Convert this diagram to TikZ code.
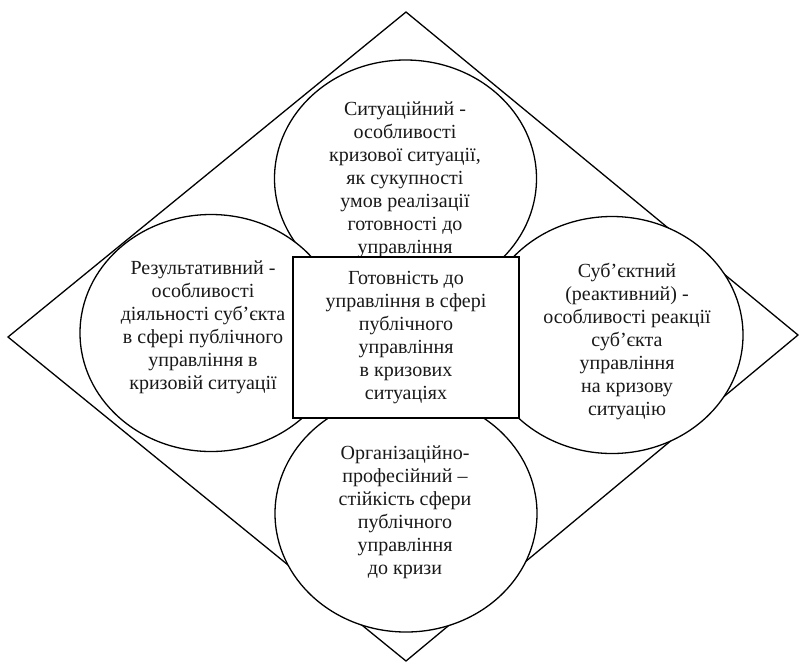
\documentclass[tikz,border=0pt]{standalone}
\usepackage{fontspec}
\setmainfont{Liberation Serif}
\usetikzlibrary{shapes.geometric}
\begin{document}
\begin{tikzpicture}[x=1pt,y=-1pt, line width=1.3pt,
  lbl/.style={align=center, font=\fontsize{20}{23}\selectfont, inner sep=0pt, text=black!90},
  oval/.style={draw, fill=white, ellipse, minimum width=262pt, minimum height=237pt, inner sep=0pt, outer sep=0pt},
  core/.style={draw, fill=white, rectangle, minimum width=226pt, minimum height=161pt, inner sep=0pt, outer sep=0pt, align=center, font=\fontsize{20}{23}\selectfont, text=black!90}]
\useasboundingbox (0,0) rectangle (799,662);
\coordinate (T) at (406,12);
\coordinate (R) at (798,335);
\coordinate (B) at (406,661);
\coordinate (L) at (8,337);
\draw (T) -- (R) -- (B) -- (L) -- cycle;
\node[oval] (top) at (405.5,178.5) {};
\node[oval] (left) at (211,333) {};
\node[oval] (right) at (612,335) {};
\node[oval] (bottom) at (406,513.5) {};
\node[lbl] (ttop) at (405,180) {Ситуаційний -\\особливості\\кризової ситуації,\\як сукупності\\умов реалізації\\готовності до\\управління};
\node[lbl] (tleft) at (203,327) {Результативний -\\особливості\\діяльності суб’єкта\\в сфері публічного\\управління в\\кризовій ситуації};
\node[lbl] (tright) at (627,341) {Суб’єктний\\(реактивний) -\\особливості реакції\\суб’єкта\\управління\\на кризову\\ситуацію};
\node[lbl] (tbottom) at (405,512) {Організаційно-\\професійний –\\стійкість сфери\\публічного\\управління\\до кризи};
\node[core] (centre) at (406,337.5) {Готовність до\\управління в сфері\\публічного\\управління\\в кризових\\ситуаціях};
\end{tikzpicture}
\end{document}
